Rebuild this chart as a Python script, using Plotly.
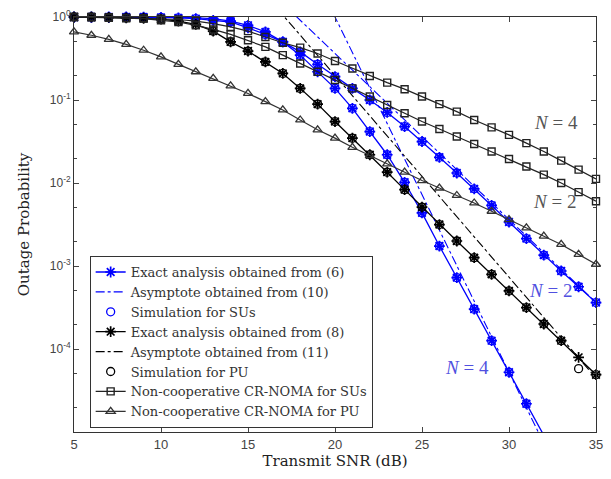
import math
import plotly.graph_objects as go

snr = list(range(5, 36))

# Exact analysis (6), SUs
su_exact_n2 = [1, 1, 1, 1, 0.999, 0.989, 0.977, 0.955, 0.912, 0.871, 0.741, 0.617, 0.501, 0.380,
               0.269, 0.191, 0.138, 0.100, 0.0708, 0.0479, 0.0316, 0.0204, 0.0132, 0.00851,
               0.00537, 0.00339, 0.00214, 0.00135, 0.000871, 0.000562, 0.000363]
su_exact_n4 = [1, 1, 1, 1, 1, 1, 0.989, 0.977, 0.955, 0.891, 0.794, 0.661, 0.501, 0.347,
               0.219, 0.138, 0.0794, 0.0417, 0.0219, 0.0102, 0.00437, 0.00174, 0.000724,
               0.000302, 0.000126, 5.25e-5, 2.19e-5, 9.12e-6, 3.8e-6, 1.58e-6, 6.6e-7]
# Simulation for SUs
su_sim_n2 = [1, 1, 1, 1, 0.999, 0.989, 0.977, 0.955, 0.912, 0.871, 0.741, 0.617, 0.501, 0.380,
             0.269, 0.191, 0.138, 0.100, 0.0708, 0.0479, 0.0316, 0.0204, 0.0132, 0.00851,
             0.00537, 0.00339, 0.00214, 0.00135, 0.000871, 0.000562, 0.000363]
su_sim_n4 = [1, 1, 1, 1, 1, 1, 0.989, 0.977, 0.955, 0.891, 0.794, 0.661, 0.501, 0.347,
             0.219, 0.138, 0.0794, 0.0417, 0.0219, 0.0102, 0.00437, 0.00174, 0.000724,
             0.000302, 0.000126, 5.25e-5, 2.19e-5, 9.12e-6, 3.8e-6, 1.58e-6, 6.6e-7]
# Exact analysis (8), PU
pu_exact = [1, 1, 0.989, 0.977, 0.966, 0.944, 0.891, 0.813, 0.676, 0.501, 0.389, 0.288, 0.209,
            0.138, 0.0891, 0.0550, 0.0347, 0.0219, 0.0135, 0.00832, 0.00513, 0.00316, 0.00200,
            0.00126, 0.000794, 0.000501, 0.000316, 0.000200, 0.000126, 7.94e-5, 4.9e-5]
pu_sim = [1, 1, 0.989, 0.977, 0.966, 0.944, 0.891, 0.813, 0.676, 0.501, 0.389, 0.288, 0.209,
          0.138, 0.0891, 0.0550, 0.0347, 0.0219, 0.0135, 0.00832, 0.00513, 0.00316, 0.00200,
          0.00126, 0.000794, 0.000501, 0.000316, 0.000200, 0.000126, 5.8e-5, 4.9e-5]
# Asymptotes
asym_su_n2_x = [17, 35]
asym_su_n2_y = [1.45, 3.63e-4]
asym_su_n4_x = [19, 35]
asym_su_n4_y = [2.68, 3.8e-7]
asym_pu_x = [16, 35]
asym_pu_y = [1.85, 4.47e-5]
# Non-cooperative CR-NOMA
noncoop_su_n4 = [1, 1, 0.989, 0.977, 0.966, 0.955, 0.933, 0.891, 0.832, 0.759, 0.676, 0.575,
                 0.490, 0.427, 0.363, 0.295, 0.240, 0.195, 0.162, 0.135, 0.110, 0.0891, 0.0724,
                 0.0575, 0.0468, 0.0380, 0.0302, 0.0240, 0.0186, 0.0145, 0.0112]
noncoop_su_n2 = [1, 0.989, 0.977, 0.966, 0.955, 0.912, 0.871, 0.794, 0.708, 0.617, 0.525, 0.437,
                 0.347, 0.275, 0.219, 0.174, 0.138, 0.110, 0.0871, 0.0692, 0.0550, 0.0447,
                 0.0363, 0.0295, 0.0240, 0.0195, 0.0158, 0.0126, 0.0100, 0.00776, 0.00603]
noncoop_pu = [0.661, 0.603, 0.537, 0.468, 0.398, 0.331, 0.269, 0.219, 0.182, 0.148, 0.120,
              0.0955, 0.0759, 0.0575, 0.0437, 0.0347, 0.0269, 0.0214, 0.0170, 0.0135, 0.0107,
              0.00871, 0.00708, 0.00575, 0.00457, 0.00363, 0.00288, 0.00229, 0.00182,
              0.00138, 0.00105]

x_ticks = [5, 10, 15, 20, 25, 30, 35]
y_ticks = [1e-4, 1e-3, 1e-2, 1e-1, 1]
y_tick_text = ["10<sup>-4</sup>", "10<sup>-3</sup>", "10<sup>-2</sup>", "10<sup>-1</sup>", "10<sup>0</sup>"]

# N labels: (x, outage probability, text, colour)
n_labels_x = [32.7, 32.6, 32.4, 27.6]
n_labels_y = [0.054, 0.0060, 0.00050, 6.0e-5]
n_labels_text = ["N = 4", "N = 2", "N = 2", "N = 4"]
n_labels_color = ["#555555", "#555555", "#5050e0", "#5050e0"]

BLUE = "#0000ff"
BLACK = "#000000"
SERIF = "DejaVu Serif, serif"

fig = go.Figure()

def exact(y, color, name, show, clip=False):
    fig.add_trace(go.Scatter(
        x=snr, y=y, mode="lines+markers", name=name, showlegend=show, cliponaxis=clip,
        line=dict(color=color, width=1.3),
        marker=dict(symbol="asterisk-open", size=9, color=color, line=dict(color=color, width=1.7))))

def sim(y, color, name, show, clip=False):
    fig.add_trace(go.Scatter(
        x=snr, y=y, mode="markers", name=name, showlegend=show, cliponaxis=clip,
        marker=dict(symbol="circle-open", size=8, color=color, line=dict(color=color, width=1.3))))

def asym(x, y, color, name, show):
    fig.add_trace(go.Scatter(
        x=x, y=y, mode="lines", name=name, showlegend=show,
        line=dict(color=color, width=1.1, dash="dashdot")))

exact(su_exact_n2, BLUE, "Exact analysis obtained from (6)", True)
exact(su_exact_n4, BLUE, "Exact analysis obtained from (6)", False, clip=True)
asym(asym_su_n2_x, asym_su_n2_y, BLUE, "Asymptote obtained from (10)", True)
asym(asym_su_n4_x, asym_su_n4_y, BLUE, "Asymptote obtained from (10)", False)
sim(su_sim_n2, BLUE, "Simulation for SUs", True)
sim(su_sim_n4, BLUE, "Simulation for SUs", False, clip=True)
exact(pu_exact, BLACK, "Exact analysis obtained from (8)", True)
asym(asym_pu_x, asym_pu_y, BLACK, "Asymptote obtained from (11)", True)
sim(pu_sim, BLACK, "Simulation for PU", True)
for i, yv in enumerate([noncoop_su_n4, noncoop_su_n2]):
    fig.add_trace(go.Scatter(
        x=snr, y=yv, mode="lines+markers", name="Non-cooperative CR-NOMA for SUs",
        showlegend=(i == 0), cliponaxis=False,
        line=dict(color="#222222", width=1.2),
        marker=dict(symbol="square-open", size=7, color="#222222", line=dict(width=1.4))))
fig.add_trace(go.Scatter(
    x=snr, y=noncoop_pu, mode="lines+markers", name="Non-cooperative CR-NOMA for PU",
    cliponaxis=False,
    line=dict(color="#333333", width=1.2),
    marker=dict(symbol="triangle-up-open", size=8, color="#333333", line=dict(width=1.3))))

for lx, ly, txt, col in zip(n_labels_x, n_labels_y, n_labels_text, n_labels_color):
    a, b = txt.split(" = ")
    fig.add_annotation(x=lx, y=math.log10(ly), text="<i>" + a + "</i>&#160;=&#160;" + b,
                       showarrow=False, font=dict(family="Liberation Serif, serif", size=19, color=col))

fig.update_xaxes(
    range=[5, 35], tickvals=x_ticks, ticks="inside", ticklen=5, showgrid=False, zeroline=False,
    showline=True, linecolor="#333333", linewidth=1, mirror="ticks",
    tickfont=dict(family="Liberation Sans, sans-serif", size=13, color="#444444"),
    title=dict(text="Transmit SNR (dB)", font=dict(family=SERIF, size=15, color="#222222"), standoff=4))
fig.update_yaxes(
    type="log", range=[-5, 0], tickvals=y_ticks, ticktext=y_tick_text, ticks="inside", ticklen=5,
    showgrid=False, zeroline=False, showline=True, linecolor="#333333", linewidth=1, mirror="ticks",
    minor=dict(ticks="inside", ticklen=3, showgrid=False),
    tickfont=dict(family="Liberation Sans, sans-serif", size=12, color="#444444"),
    title=dict(text="Outage Probability", font=dict(family=SERIF, size=15, color="#222222"), standoff=16))

fig.update_layout(
    width=611, height=479, margin=dict(l=74, r=8, t=15, b=47),
    plot_bgcolor="white", paper_bgcolor="white",
    legend=dict(x=0.03, y=0.424, xanchor="left", yanchor="top", bgcolor="white",
                bordercolor="#333333", borderwidth=1, tracegroupgap=0,
                font=dict(family=SERIF, size=13, color="#333333"), itemwidth=30),
)

fig.write_html("out.html")
